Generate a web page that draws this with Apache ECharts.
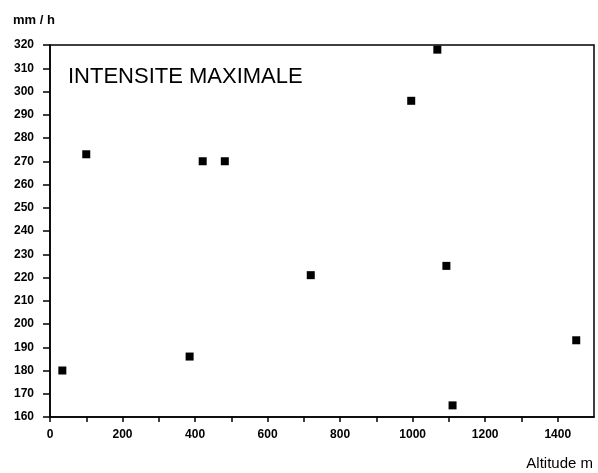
<!DOCTYPE html>
<html>
<head>
<meta charset="utf-8">
<script src="https://cdn.jsdelivr.net/npm/echarts@6/dist/echarts.min.js"></script>
<style>
  html, body { margin: 0; padding: 0; background: #fff; }
  #main { width: 598px; height: 473px; }
</style>
</head>
<body>
<div id="main"></div>
<script>
// altitude (m) and maximum intensity (mm/h) for each station
var altitude = [34, 100, 385, 421, 482, 719, 996, 1068, 1093, 1110, 1451];
var intensity = [180, 273, 186, 270, 270, 221, 296, 318, 225, 165, 193];

var chartTitle = 'INTENSITE MAXIMALE';
var yName = 'mm / h';
var xName = 'Altitude m';

var points = altitude.map(function (a, i) { return [a, intensity[i]]; });

var chart = echarts.init(document.getElementById('main'), null, { renderer: 'canvas' });

var option = {
    backgroundColor: '#ffffff',
    animation: false,
    grid: { left: 50, right: 4, top: 45, bottom: 56, show: true, borderColor: '#000', borderWidth: 1.5 },
    title: {
        text: chartTitle,
        left: 63,
        top: 61,
        textStyle: { fontFamily: 'Liberation Sans', fontSize: 22, fontWeight: 'normal', color: '#000' }
    },
    xAxis: {
        type: 'value',
        min: 0,
        max: 1500,
        interval: 100,
        axisLine: { lineStyle: { color: '#000', width: 1.5 } },
        axisTick: { inside: false, length: 5, lineStyle: { color: '#000', width: 1.5 } },
        splitLine: { show: false },
        axisLabel: {
            margin: 12,
            color: '#000',
            fontFamily: 'Liberation Sans',
            fontWeight: 'bold',
            fontSize: 12,
            showMaxLabel: false,
            formatter: function (v) { return v % 200 === 0 ? String(v) : ''; }
        }
    },
    yAxis: {
        type: 'value',
        min: 160,
        max: 320,
        interval: 10,
        axisLine: { lineStyle: { color: '#000', width: 1.5 } },
        axisTick: { inside: false, length: 7, lineStyle: { color: '#000', width: 1.5 } },
        splitLine: { show: false },
        axisLabel: {
            margin: 16,
            color: '#000',
            fontFamily: 'Liberation Sans',
            fontWeight: 'bold',
            fontSize: 12
        }
    },
    graphic: [
        {
            type: 'text',
            left: 13,
            top: 14,
            style: { text: yName, font: 'bold 13px "Liberation Sans"', fill: '#000' }
        },
        {
            type: 'text',
            right: 5,
            top: 456,
            style: { text: xName, font: '15px "Liberation Sans"', fill: '#000' }
        }
    ],
    series: [{
        type: 'scatter',
        data: points,
        symbol: 'rect',
        symbolSize: 8,
        itemStyle: { color: '#000', opacity: 1 }
    }]
};

chart.setOption(option);
</script>
</body>
</html>
